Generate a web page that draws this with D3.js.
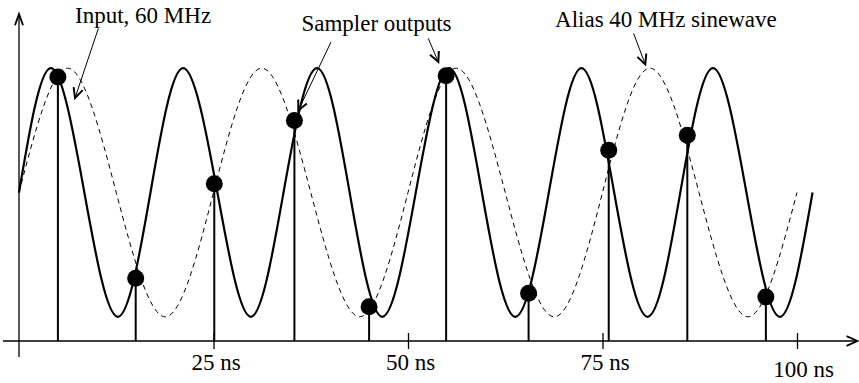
<!DOCTYPE html>
<html>
<head>
<meta charset="utf-8">
<script src="https://cdn.jsdelivr.net/npm/d3@7/dist/d3.min.js"></script>
<style>
  html, body { margin: 0; padding: 0; background: #fff; }
  svg { display: block; }
</style>
</head>
<body>
<svg id="chart" width="859" height="383"></svg>
<script>
// Input 60 MHz: zero crossings and extrema (ns, amplitude)
const inputT = [0, 4.1, 8.4, 12.7, 16.9, 21.1, 25.5, 29.8, 34.0, 38.3, 42.5, 46.7, 51.0,
                55.3, 59.5, 63.8, 68.1, 72.3, 76.5, 80.8, 85.0, 89.2, 93.5, 97.8, 102.0];
const inputV = [0, 1, 0, -1, 0, 1, 0, -1, 0, 1, 0, -1, 0,
                1, 0, -1, 0, 1, 0, -1, 0, 1, 0, -1, 0];

// Alias 40 MHz (dashed)
const aliasT = [0, 6.25, 12.5, 18.8, 25.0, 31.2, 37.5, 43.8, 50.0,
                56.2, 62.5, 68.8, 75.0, 81.1, 87.4, 93.7, 100.0];
const aliasV = [0, 1, 0, -1, 0, 1, 0, -1, 0, 1, 0, -1, 0, 1, 0, -1, 0];

// Sampler outputs
const sampleT = [5.0, 15.0, 25.1, 35.4, 45.0, 54.9, 65.5, 75.8, 85.9, 96.0];
const sampleV = [0.93, -0.69, 0.07, 0.58, -0.92, 0.94, -0.81, 0.34, 0.46, -0.84];

// x ticks
const tickValues = [25, 50, 75, 100];
const tickLabels = ["25 ns", "50 ns", "75 ns", "100 ns"];

// annotations: label anchor and arrows (data coords)
const noteText = ["Input, 60 MHz", "Sampler outputs", "Alias 40 MHz sinewave"];
const noteAt = [[7.2, 1.366], [36.3, 1.30], [68.9, 1.33]];
const arrows = [
  [[10.2, 1.32], [7.2, 0.76]],
  [[40.1, 1.21], [35.9, 0.66]],
  [[52.6, 1.24], [53.9, 1.05]],
  [[79.0, 1.28], [80.5, 1.03]]
];

const svg = d3.select("#chart");
const W = 859, H = 383;
const FONT = "'Liberation Serif', 'Times New Roman', serif";
const FS = 23;
const axisY = 341;

const x = d3.scaleLinear([0, 100], [19, 797]);
const y = d3.scaleLinear([-1, 1], [316.8, 68.2]);

svg.append("rect").attr("width", W).attr("height", H).attr("fill", "#fff");

// open chevron arrow head at (tx,ty) pointing along angle a
function chevron(g, tx, ty, a, len, spread, sw) {
  const p1 = [tx - len * Math.cos(a - spread), ty - len * Math.sin(a - spread)];
  const p2 = [tx - len * Math.cos(a + spread), ty - len * Math.sin(a + spread)];
  g.append("path")
    .attr("d", `M${p1[0]},${p1[1]}L${tx},${ty}L${p2[0]},${p2[1]}`)
    .attr("fill", "none").attr("stroke", "#000").attr("stroke-width", sw)
    .attr("stroke-linejoin", "miter");
}

// Axes
svg.append("line").attr("x1", 3).attr("x2", 857).attr("y1", axisY).attr("y2", axisY)
  .attr("stroke", "#000").attr("stroke-width", 1.3);
chevron(svg, 857.5, axisY, 0, 12, 0.42, 1.8);
svg.append("line").attr("x1", x(0)).attr("x2", x(0)).attr("y1", 357).attr("y2", 14)
  .attr("stroke", "#000").attr("stroke-width", 1.3);
chevron(svg, x(0), 14, -Math.PI / 2, 12, 0.34, 1.8);

const ax = svg.append("g").attr("transform", `translate(0,${axisY})`)
  .call(d3.axisBottom(x).tickValues(tickValues)
    .tickFormat((d, i) => tickLabels[i]).tickSize(8).tickPadding(10));
ax.select(".domain").remove();
ax.selectAll(".tick line").attr("y1", -8).attr("y2", 8)
  .attr("stroke", "#000").attr("stroke-width", 1.3);
ax.selectAll(".tick text")
  .attr("font-family", FONT).attr("font-size", FS).attr("fill", "#000")
  .attr("dy", null).attr("y", d => d === 100 ? 36 : 29)
  .attr("dx", d => d === 100 ? 6 : 2);

// Alias (dashed)
svg.append("path").datum(d3.zip(aliasT, aliasV))
  .attr("d", d3.line().x(d => x(d[0])).y(d => y(d[1])).curve(d3.curveNatural))
  .attr("fill", "none").attr("stroke", "#000").attr("stroke-width", 1)
  .attr("stroke-dasharray", "5,4");

// Input (solid)
svg.append("path").datum(d3.zip(inputT, inputV))
  .attr("d", d3.line().x(d => x(d[0])).y(d => y(d[1])).curve(d3.curveNatural))
  .attr("fill", "none").attr("stroke", "#000").attr("stroke-width", 2.2);

// Sampler stems + dots
const samples = d3.zip(sampleT, sampleV);
svg.selectAll("line.stem").data(samples).join("line").attr("class", "stem")
  .attr("x1", d => x(d[0])).attr("x2", d => x(d[0]))
  .attr("y1", axisY).attr("y2", d => y(d[1]))
  .attr("stroke", "#000").attr("stroke-width", 2);
svg.selectAll("circle.dot").data(samples).join("circle").attr("class", "dot")
  .attr("cx", d => x(d[0])).attr("cy", d => y(d[1])).attr("r", 8.5).attr("fill", "#000");

// Annotations
noteText.forEach((t, i) => {
  svg.append("text").attr("x", x(noteAt[i][0])).attr("y", y(noteAt[i][1]))
    .attr("font-family", FONT).attr("font-size", FS).attr("fill", "#000").text(t);
});
arrows.forEach(([a, b]) => {
  const x1 = x(a[0]), y1 = y(a[1]), x2 = x(b[0]), y2 = y(b[1]);
  svg.append("line").attr("x1", x1).attr("y1", y1).attr("x2", x2).attr("y2", y2)
    .attr("stroke", "#000").attr("stroke-width", 1);
  chevron(svg, x2, y2, Math.atan2(y2 - y1, x2 - x1), 11, 0.45, 2);
});
</script>
</body>
</html>
